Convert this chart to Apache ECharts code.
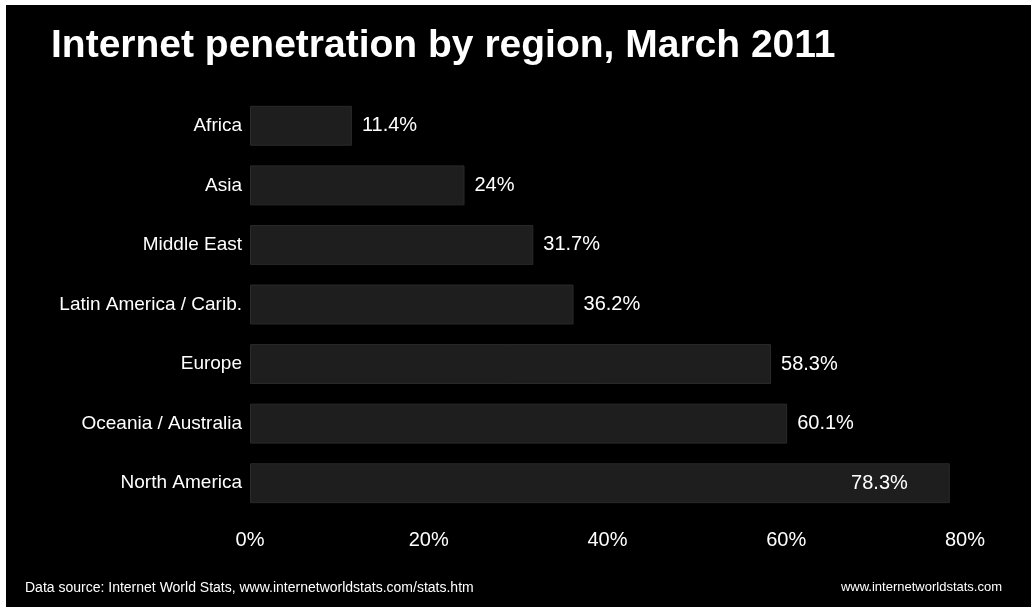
<!DOCTYPE html>
<html>
<head>
<meta charset="utf-8">
<script src="https://cdn.jsdelivr.net/npm/echarts@6/dist/echarts.min.js"></script>
<style>
html,body{margin:0;padding:0;background:#fff;width:1031px;height:607px;overflow:hidden;}
#chart{position:absolute;left:6px;top:5px;width:1025px;height:602px;background:#000;}
</style>
</head>
<body>
<div id="chart"></div>
<script>
const categories = ['Africa','Asia','Middle East','Latin America / Carib.','Europe','Oceania / Australia','North America'];
const values = [11.4, 24, 31.7, 36.2, 58.3, 60.1, 78.3];
const valueLabels = ['11.4%','24%','31.7%','36.2%','58.3%','60.1%','78.3%'];
const xTicks = [0, 20, 40, 60, 80];

const FONT = 'Liberation Sans, Arial, sans-serif';
const chart = echarts.init(document.getElementById('chart'));
chart.setOption({
  backgroundColor: '#000',
  animation: false,
  title: [
    {text: 'Internet penetration by region, March 2011', left: 40, top: 17,
     textStyle: {color: '#fff', fontSize: 39, fontWeight: 'bold', fontFamily: FONT}},
    {text: 'Data source: Internet World Stats, www.internetworldstats.com/stats.htm', left: 14, top: 571,
     textStyle: {color: '#fff', fontSize: 14, fontWeight: 'normal', fontFamily: FONT}},
    {text: 'www.internetworldstats.com', right: 24, top: 571,
     textStyle: {color: '#fff', fontSize: 13, fontWeight: 'normal', fontFamily: FONT}}
  ],
  grid: {left: 244, width: 715, top: 91, height: 417, containLabel: false},
  xAxis: {
    type: 'value', min: 0, max: 80, interval: 20,
    axisLine: {show: false}, axisTick: {show: false}, splitLine: {show: false},
    axisLabel: {color: '#fff', fontSize: 20, margin: 17, fontFamily: FONT,
      formatter: v => xTicks.includes(v) ? v + '%' : ''}
  },
  yAxis: {
    type: 'category', data: categories, inverse: true,
    axisLine: {show: false}, axisTick: {show: false},
    axisLabel: {color: '#fff', fontSize: 19, margin: 8, fontFamily: FONT}
  },
  series: [{
    type: 'bar',
    barWidth: '67%',
    data: values.map((v, i) => ({
      value: v,
      label: i === values.length - 1 ? {position: 'insideRight', distance: 42} : {}
    })),
    itemStyle: {color: '#1e1e1e', borderColor: '#2a2a2a', borderWidth: 1},
    label: {
      show: true, position: 'right', distance: 10, color: '#fff', fontSize: 20,
      fontFamily: FONT,
      formatter: p => valueLabels[p.dataIndex]
    }
  }]
});
</script>
</body>
</html>
